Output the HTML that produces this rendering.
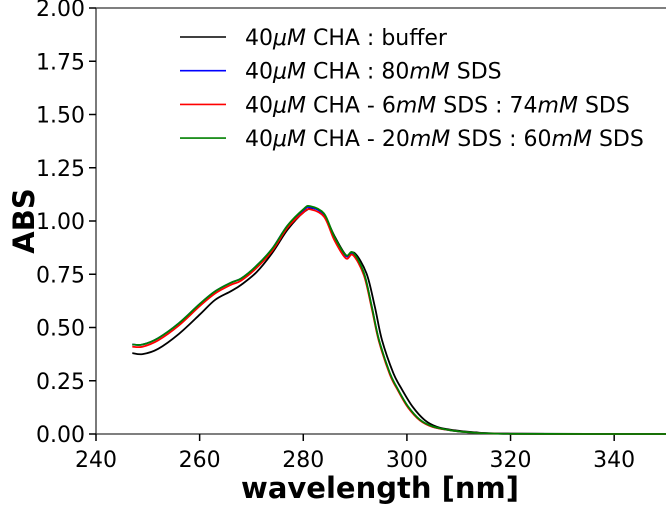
<!DOCTYPE html>
<html><head><meta charset="utf-8"><style>
body{margin:0;background:#fff}
svg text{font-family:"DejaVu Sans","Liberation Sans",sans-serif}
</style></head><body>
<svg id="chart" width="666" height="504">
<g id="axes"></g><g id="series"></g><g id="legend"></g>
</svg>
<script>
const xTicks=[240,260,280,300,320,340];
const yTicks=[0,0.25,0.5,0.75,1.0,1.25,1.5,1.75,2.0];
const wlBlack=[247,249,252,256,260,263,266,268,271,274,277,280,282,284,286,288.4,289.9,292.2,293.8,295.2,297.4,299.1,301.1,303.4,305.8,309,313,320,350];
const absBlack=[0.38,0.375,0.40,0.47,0.56,0.63,0.67,0.70,0.76,0.85,0.96,1.04,1.06,1.03,0.93,0.835,0.85,0.754,0.598,0.441,0.285,0.207,0.128,0.066,0.034,0.018,0.008,0.002,0];
const wlSds=[247,249,252,256,260,263,266,268,271,274,277,280,281.3,284,286,288.2,289.6,291.7,293.2,294.6,296.7,298.3,300.2,302.5,305,308.3,312,320,350];
const absBlue=[0.42,0.42,0.45,0.52,0.61,0.67,0.71,0.73,0.79,0.87,0.98,1.05,1.065,1.03,0.92,0.835,0.848,0.754,0.598,0.441,0.285,0.207,0.128,0.066,0.034,0.018,0.008,0.001,0];
const absRed=[0.41,0.41,0.44,0.51,0.60,0.66,0.70,0.72,0.78,0.86,0.97,1.04,1.055,1.02,0.91,0.825,0.84,0.745,0.59,0.435,0.28,0.203,0.125,0.064,0.033,0.018,0.008,0.001,0];
const absGreen=[0.42,0.42,0.45,0.52,0.61,0.67,0.71,0.73,0.79,0.87,0.98,1.055,1.07,1.035,0.925,0.84,0.852,0.757,0.6,0.443,0.287,0.208,0.13,0.067,0.035,0.018,0.008,0.001,0];
const legendLabels=['40<tspan font-style="italic">μM</tspan> CHA : buffer','40<tspan font-style="italic">μM</tspan> CHA : 80<tspan font-style="italic">mM</tspan> SDS','40<tspan font-style="italic">μM</tspan> CHA - 6<tspan font-style="italic">mM</tspan> SDS : 74<tspan font-style="italic">mM</tspan> SDS','40<tspan font-style="italic">μM</tspan> CHA - 20<tspan font-style="italic">mM</tspan> SDS : 60<tspan font-style="italic">mM</tspan> SDS'];
const colors=['#000','#0000ff','#ff0000','#008000'];
const L=96,R=666,T=8,B=434,X0=240,X1=350,Y0=0,Y1=2;
const sx=v=>L+(v-X0)/(X1-X0)*(R-L);
const sy=v=>B-(v-Y0)/(Y1-Y0)*(B-T);
const NS='http://www.w3.org/2000/svg';
function mk(p,t,a){const e=document.createElementNS(NS,t);for(const k in a)e.setAttribute(k,a[k]);p.appendChild(e);return e;}
function smooth(pts){let d='M'+pts[0][0].toFixed(1)+','+pts[0][1].toFixed(1);
 for(let i=0;i<pts.length-1;i++){const p0=pts[Math.max(0,i-1)],p1=pts[i],p2=pts[i+1],p3=pts[Math.min(pts.length-1,i+2)];
  const c1=[p1[0]+(p2[0]-p0[0])/6,p1[1]+(p2[1]-p0[1])/6],c2=[p2[0]-(p3[0]-p1[0])/6,p2[1]-(p3[1]-p1[1])/6];
  d+=`C${c1[0].toFixed(1)},${c1[1].toFixed(1)} ${c2[0].toFixed(1)},${c2[1].toFixed(1)} ${p2[0].toFixed(1)},${p2[1].toFixed(1)}`;}
 return d;}
const ax=document.getElementById('axes');
let sp=mk(ax,'path',{d:`M${L},${T}H${R}M${L},${T}V${B}H${R}`,stroke:'#333',fill:'none','stroke-width':1.3});


xTicks.forEach(v=>{const x=sx(v);
 let t=mk(ax,'line',{x1:x,x2:x,y1:B,y2:B+7,stroke:'#000','stroke-width':1.5});
 
 
 let l=mk(ax,'text',{x:x,y:467,'text-anchor':'middle','font-size':22});l.textContent=v;
 
 });
yTicks.forEach(v=>{const y=sy(v);
 let t=mk(ax,'line',{x1:L-7,x2:L,y1:y,y2:y,stroke:'#000','stroke-width':1.5});
 
 
 let l=mk(ax,'text',{x:L-11,y:y+8,'text-anchor':'end','font-size':22});l.textContent=v.toFixed(2);
 
 });
let xt=mk(ax,'text',{x:380,y:498,'text-anchor':'middle','font-size':29,'font-weight':'bold'});xt.textContent='wavelength [nm]';


let yt=mk(ax,'text',{x:0,y:0,'text-anchor':'middle','font-size':29,'font-weight':'bold',transform:'translate(34,221) rotate(-90)'});yt.textContent='ABS';


const sg=document.getElementById('series');
[[wlBlack,absBlack],[wlSds,absBlue],[wlSds,absRed],[wlSds,absGreen]].forEach((s,i)=>{
 const pts=s[0].map((w,j)=>[sx(w),sy(s[1][j])]);
 let p=mk(sg,'path',{d:smooth(pts),stroke:colors[i],fill:'none','stroke-width':1.8,'stroke-linejoin':'round'});
 
 });
const lg=document.getElementById('legend');
legendLabels.forEach((t,i)=>{const y=37+i*33.7;
 let l=mk(lg,'line',{x1:180,x2:226,y1:y,y2:y,stroke:colors[i],'stroke-width':1.6});
 
 
 let tx=mk(lg,'text',{x:245,y:y+8,'font-size':22});tx.innerHTML=t;
 
 });
</script>
</body></html>
